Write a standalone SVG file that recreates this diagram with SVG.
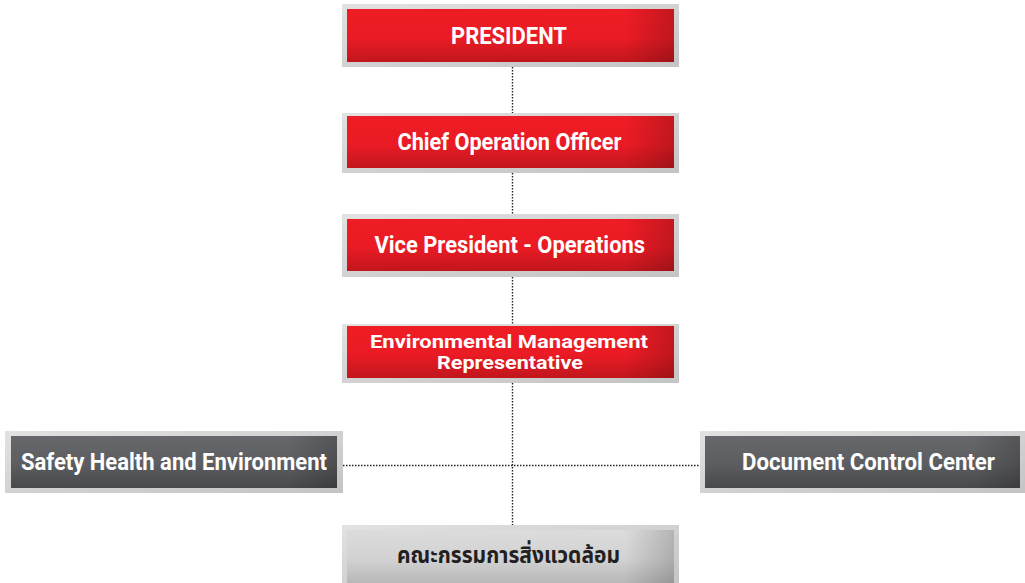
<svg xmlns="http://www.w3.org/2000/svg" width="1025" height="583" viewBox="0 0 1025 583">
<defs>
<linearGradient id="frame" x1="0" y1="0" x2="1" y2="1">
<stop offset="0" stop-color="#e2e2e2"/>
<stop offset="0.5" stop-color="#d2d2d2"/>
<stop offset="1" stop-color="#c4c4c4"/>
</linearGradient>
<linearGradient id="red" x1="0" y1="0" x2="0" y2="1">
<stop offset="0" stop-color="#ee1c25"/>
<stop offset="0.55" stop-color="#ea1b24"/>
<stop offset="1" stop-color="#c1161d"/>
</linearGradient>
<linearGradient id="dark" x1="0" y1="0" x2="0" y2="1">
<stop offset="0" stop-color="#67686b"/>
<stop offset="0.55" stop-color="#5c5d60"/>
<stop offset="1" stop-color="#48494b"/>
</linearGradient>
<linearGradient id="light" x1="0" y1="0" x2="0" y2="1">
<stop offset="0" stop-color="#dcdcdc"/>
<stop offset="0.55" stop-color="#d2d2d2"/>
<stop offset="1" stop-color="#b7b7b7"/>
</linearGradient>
<linearGradient id="edge" x1="0" y1="0" x2="1" y2="0">
<stop offset="0.85" stop-color="#000" stop-opacity="0"/>
<stop offset="1" stop-color="#000" stop-opacity="0.18"/>
</linearGradient>
</defs>
<style>
.frame{fill:url(#frame)}
.red{fill:url(#red)}
.dark{fill:url(#dark)}
.light{fill:url(#light)}
.edge{fill:url(#edge)}
.t{font-family:Roboto,"Liberation Sans",sans-serif;font-weight:bold;fill:#fff;font-size:23px}
.th{font-family:"Noto Sans Thai","Noto Sans","DejaVu Sans",sans-serif;font-weight:bold;fill:#231f20;font-size:23px}
.c{fill:none;stroke:#222;stroke-width:1.4;stroke-dasharray:1.5 1.5}
</style>
<g id="connectors">
<line class="c" x1="512.5" y1="67" x2="512.5" y2="113"/>
<line class="c" x1="512.5" y1="173" x2="512.5" y2="214"/>
<line class="c" x1="512.5" y1="277" x2="512.5" y2="324"/>
<line class="c" x1="512.5" y1="383" x2="512.5" y2="525"/>
<line class="c" x1="343" y1="465.5" x2="700" y2="465.5"/>
</g>
<g id="president">
<rect class="frame" x="342" y="4" width="337" height="63"/>
<rect class="red" x="347" y="9" width="327" height="53"/>
<rect class="edge" x="347" y="9" width="327" height="53"/>
<text class="t" x="451" y="44" textLength="116" lengthAdjust="spacingAndGlyphs">PRESIDENT</text>
</g>
<g id="coo">
<rect class="frame" x="342" y="113" width="337" height="60"/>
<rect class="red" x="347" y="116" width="327" height="52"/>
<rect class="edge" x="347" y="116" width="327" height="52"/>
<text class="t" x="397.5" y="150" textLength="224" lengthAdjust="spacingAndGlyphs">Chief Operation Officer</text>
</g>
<g id="vp">
<rect class="frame" x="342" y="214" width="337" height="63"/>
<rect class="red" x="347" y="219" width="327" height="52"/>
<rect class="edge" x="347" y="219" width="327" height="52"/>
<text class="t" x="374.5" y="253" textLength="270.5" lengthAdjust="spacingAndGlyphs">Vice President - Operations</text>
</g>
<g id="emr">
<rect class="frame" x="342" y="324" width="337" height="59"/>
<rect class="red" x="347" y="326" width="327" height="52"/>
<rect class="edge" x="347" y="326" width="327" height="52"/>
<text class="t" style="font-size:18px" x="370" y="347.5" textLength="278" lengthAdjust="spacingAndGlyphs">Environmental Management</text>
<text class="t" style="font-size:18px" x="437" y="368.5" textLength="146" lengthAdjust="spacingAndGlyphs">Representative</text>
</g>
<g id="she">
<rect class="frame" x="5" y="431" width="338" height="62"/>
<rect class="dark" x="11" y="436" width="326" height="52"/>
<rect class="edge" x="11" y="436" width="326" height="52"/>
<text class="t" x="21" y="470" textLength="306" lengthAdjust="spacingAndGlyphs">Safety Health and Environment</text>
</g>
<g id="dcc">
<rect class="frame" x="700" y="431" width="325" height="62"/>
<rect class="dark" x="705" y="436" width="315" height="52"/>
<rect class="edge" x="705" y="436" width="315" height="52"/>
<text class="t" x="742" y="470" textLength="253" lengthAdjust="spacingAndGlyphs">Document Control Center</text>
</g>
<g id="committee">
<rect class="frame" x="342" y="525" width="337" height="58"/>
<rect class="light" x="347" y="530" width="327" height="53"/>
<rect class="edge" x="347" y="530" width="327" height="53"/>
<text class="th" x="397" y="563" textLength="223" lengthAdjust="spacingAndGlyphs">คณะกรรมการสิ่งแวดล้อม</text>
</g>
</svg>
